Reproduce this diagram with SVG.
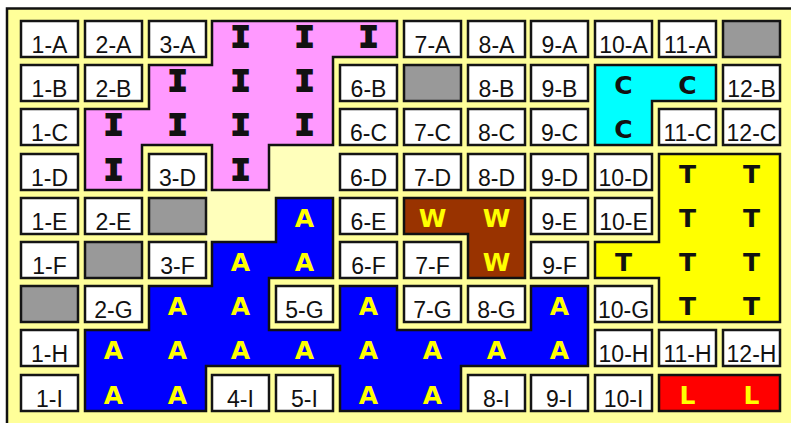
<svg xmlns="http://www.w3.org/2000/svg" width="791" height="423" viewBox="0 0 791 423">
<style>
.cell{fill:#ffffff;stroke:#151515;stroke-width:2.5}
.gray{fill:#999999;stroke:#151515;stroke-width:2.5}
.reg{stroke:#111111;stroke-width:2.5;stroke-linejoin:miter}
.lbl{font-family:"Liberation Sans",Arial,sans-serif;font-size:23px;text-anchor:middle;fill:#111111}
.big{font-family:"DejaVu Sans",sans-serif;font-weight:bold;font-size:25px;text-anchor:middle}
.ser{font-family:"Liberation Mono","Courier New",monospace;font-weight:bold;font-size:32px;text-anchor:middle;fill:#111111;stroke:#111111;stroke-width:2}
.blk{fill:#111111}
.yel{fill:#ffff00}
</style>
<rect x="0" y="0" width="791" height="423" fill="#ffffff"/>
<rect x="7" y="9" width="784" height="414" fill="#ffff99"/>
<path d="M7,423 V8.5 H791" fill="none" stroke="#111" stroke-width="2.5"/>
<path d="M269,145 H340 V198 H276 V242 H206 V190 H269 Z" fill="#ffffbb"/>

<g id="region-I">
<path class="reg" fill="#ff99ff" d="M212,21 H397 V57 H333 V145 H269 V190 H212 V145 H142 V190 H85 V109 H149 V65 H212 Z"/>
<g class="ser">
<text x="240.5" y="47">I</text>
<text x="304.5" y="47">I</text>
<text x="368.5" y="47">I</text>
<text x="177.5" y="91">I</text>
<text x="240.5" y="91">I</text>
<text x="304.5" y="91">I</text>
<text x="113.5" y="135">I</text>
<text x="177.5" y="135">I</text>
<text x="240.5" y="135">I</text>
<text x="304.5" y="135">I</text>
<text x="113.5" y="180">I</text>
<text x="240.5" y="180">I</text>
</g>
</g>

<g id="region-C">
<path class="reg" fill="#00ffff" d="M595,65 H716 V101 H652 V145 H595 Z"/>
<g class="big blk">
<text x="623.5" y="94">C</text>
<text x="687.5" y="94">C</text>
<text x="623.5" y="138">C</text>
</g>
</g>

<g id="region-T">
<path class="reg" fill="#ffff00" d="M659,154 H780 V322 H659 V278 H595 V242 H659 Z"/>
<g class="big blk">
<text x="687.5" y="183">T</text>
<text x="751.5" y="183">T</text>
<text x="687.5" y="227">T</text>
<text x="751.5" y="227">T</text>
<text x="623.5" y="271">T</text>
<text x="687.5" y="271">T</text>
<text x="751.5" y="271">T</text>
<text x="687.5" y="315">T</text>
<text x="751.5" y="315">T</text>
</g>
</g>

<g id="region-W">
<path class="reg" fill="#993300" d="M404,198 H525 V278 H468 V234 H404 Z"/>
<g class="big yel">
<text x="432.5" y="227">W</text>
<text x="496.5" y="227">W</text>
<text x="496.5" y="271">W</text>
</g>
</g>

<g id="region-L">
<path class="reg" fill="#ff0000" d="M659,375 H780 V411 H659 Z"/>
<g class="big yel">
<text x="687.5" y="404">L</text>
<text x="751.5" y="404">L</text>
</g>
</g>

<g id="region-A">
<path class="reg" fill="#0000ff" d="M276,198 H333 V278 H269 V330 H340 V286 H397 V330 H531 V286 H588 V366 H461 V411 H340 V366 H206 V411 H85 V330 H149 V286 H212 V242 H276 Z"/>
<g class="big yel">
<text x="304.5" y="227">A</text>
<text x="240.5" y="271">A</text>
<text x="304.5" y="271">A</text>
<text x="177.5" y="315">A</text>
<text x="240.5" y="315">A</text>
<text x="368.5" y="315">A</text>
<text x="559.5" y="315">A</text>
<text x="113.5" y="359">A</text>
<text x="177.5" y="359">A</text>
<text x="240.5" y="359">A</text>
<text x="304.5" y="359">A</text>
<text x="368.5" y="359">A</text>
<text x="432.5" y="359">A</text>
<text x="496.5" y="359">A</text>
<text x="559.5" y="359">A</text>
<text x="113.5" y="404">A</text>
<text x="177.5" y="404">A</text>
<text x="368.5" y="404">A</text>
<text x="432.5" y="404">A</text>
</g>
</g>

<g id="cell-1-A"><rect class="cell" x="21" y="21" width="57" height="36"/><text class="lbl" x="49.5" y="53">1-A</text></g>
<g id="cell-2-A"><rect class="cell" x="85" y="21" width="57" height="36"/><text class="lbl" x="113.5" y="53">2-A</text></g>
<g id="cell-3-A"><rect class="cell" x="149" y="21" width="57" height="36"/><text class="lbl" x="177.5" y="53">3-A</text></g>
<g id="cell-7-A"><rect class="cell" x="404" y="21" width="57" height="36"/><text class="lbl" x="432.5" y="53">7-A</text></g>
<g id="cell-8-A"><rect class="cell" x="468" y="21" width="57" height="36"/><text class="lbl" x="496.5" y="53">8-A</text></g>
<g id="cell-9-A"><rect class="cell" x="531" y="21" width="57" height="36"/><text class="lbl" x="559.5" y="53">9-A</text></g>
<g id="cell-10-A"><rect class="cell" x="595" y="21" width="57" height="36"/><text class="lbl" x="623.5" y="53">10-A</text></g>
<g id="cell-11-A"><rect class="cell" x="659" y="21" width="57" height="36"/><text class="lbl" x="687.5" y="53">11-A</text></g>
<g id="cell-12-A"><rect class="gray" x="723" y="21" width="57" height="36"/></g>

<g id="cell-1-B"><rect class="cell" x="21" y="65" width="57" height="36"/><text class="lbl" x="49.5" y="97">1-B</text></g>
<g id="cell-2-B"><rect class="cell" x="85" y="65" width="57" height="36"/><text class="lbl" x="113.5" y="97">2-B</text></g>
<g id="cell-6-B"><rect class="cell" x="340" y="65" width="57" height="36"/><text class="lbl" x="368.5" y="97">6-B</text></g>
<g id="cell-7-B"><rect class="gray" x="404" y="65" width="57" height="36"/></g>
<g id="cell-8-B"><rect class="cell" x="468" y="65" width="57" height="36"/><text class="lbl" x="496.5" y="97">8-B</text></g>
<g id="cell-9-B"><rect class="cell" x="531" y="65" width="57" height="36"/><text class="lbl" x="559.5" y="97">9-B</text></g>
<g id="cell-12-B"><rect class="cell" x="723" y="65" width="57" height="36"/><text class="lbl" x="751.5" y="97">12-B</text></g>

<g id="cell-1-C"><rect class="cell" x="21" y="109" width="57" height="36"/><text class="lbl" x="49.5" y="141">1-C</text></g>
<g id="cell-6-C"><rect class="cell" x="340" y="109" width="57" height="36"/><text class="lbl" x="368.5" y="141">6-C</text></g>
<g id="cell-7-C"><rect class="cell" x="404" y="109" width="57" height="36"/><text class="lbl" x="432.5" y="141">7-C</text></g>
<g id="cell-8-C"><rect class="cell" x="468" y="109" width="57" height="36"/><text class="lbl" x="496.5" y="141">8-C</text></g>
<g id="cell-9-C"><rect class="cell" x="531" y="109" width="57" height="36"/><text class="lbl" x="559.5" y="141">9-C</text></g>
<g id="cell-11-C"><rect class="cell" x="659" y="109" width="57" height="36"/><text class="lbl" x="687.5" y="141">11-C</text></g>
<g id="cell-12-C"><rect class="cell" x="723" y="109" width="57" height="36"/><text class="lbl" x="751.5" y="141">12-C</text></g>

<g id="cell-1-D"><rect class="cell" x="21" y="154" width="57" height="36"/><text class="lbl" x="49.5" y="186">1-D</text></g>
<g id="cell-3-D"><rect class="cell" x="149" y="154" width="57" height="36"/><text class="lbl" x="177.5" y="186">3-D</text></g>
<g id="cell-6-D"><rect class="cell" x="340" y="154" width="57" height="36"/><text class="lbl" x="368.5" y="186">6-D</text></g>
<g id="cell-7-D"><rect class="cell" x="404" y="154" width="57" height="36"/><text class="lbl" x="432.5" y="186">7-D</text></g>
<g id="cell-8-D"><rect class="cell" x="468" y="154" width="57" height="36"/><text class="lbl" x="496.5" y="186">8-D</text></g>
<g id="cell-9-D"><rect class="cell" x="531" y="154" width="57" height="36"/><text class="lbl" x="559.5" y="186">9-D</text></g>
<g id="cell-10-D"><rect class="cell" x="595" y="154" width="57" height="36"/><text class="lbl" x="623.5" y="186">10-D</text></g>

<g id="cell-1-E"><rect class="cell" x="21" y="198" width="57" height="36"/><text class="lbl" x="49.5" y="230">1-E</text></g>
<g id="cell-2-E"><rect class="cell" x="85" y="198" width="57" height="36"/><text class="lbl" x="113.5" y="230">2-E</text></g>
<g id="cell-3-E"><rect class="gray" x="149" y="198" width="57" height="36"/></g>
<g id="cell-6-E"><rect class="cell" x="340" y="198" width="57" height="36"/><text class="lbl" x="368.5" y="230">6-E</text></g>
<g id="cell-9-E"><rect class="cell" x="531" y="198" width="57" height="36"/><text class="lbl" x="559.5" y="230">9-E</text></g>
<g id="cell-10-E"><rect class="cell" x="595" y="198" width="57" height="36"/><text class="lbl" x="623.5" y="230">10-E</text></g>

<g id="cell-1-F"><rect class="cell" x="21" y="242" width="57" height="36"/><text class="lbl" x="49.5" y="274">1-F</text></g>
<g id="cell-2-F"><rect class="gray" x="85" y="242" width="57" height="36"/></g>
<g id="cell-3-F"><rect class="cell" x="149" y="242" width="57" height="36"/><text class="lbl" x="177.5" y="274">3-F</text></g>
<g id="cell-6-F"><rect class="cell" x="340" y="242" width="57" height="36"/><text class="lbl" x="368.5" y="274">6-F</text></g>
<g id="cell-7-F"><rect class="cell" x="404" y="242" width="57" height="36"/><text class="lbl" x="432.5" y="274">7-F</text></g>
<g id="cell-9-F"><rect class="cell" x="531" y="242" width="57" height="36"/><text class="lbl" x="559.5" y="274">9-F</text></g>

<g id="cell-1-G"><rect class="gray" x="21" y="286" width="57" height="36"/></g>
<g id="cell-2-G"><rect class="cell" x="85" y="286" width="57" height="36"/><text class="lbl" x="113.5" y="318">2-G</text></g>
<g id="cell-5-G"><rect class="cell" x="276" y="286" width="57" height="36"/><text class="lbl" x="304.5" y="318">5-G</text></g>
<g id="cell-7-G"><rect class="cell" x="404" y="286" width="57" height="36"/><text class="lbl" x="432.5" y="318">7-G</text></g>
<g id="cell-8-G"><rect class="cell" x="468" y="286" width="57" height="36"/><text class="lbl" x="496.5" y="318">8-G</text></g>
<g id="cell-10-G"><rect class="cell" x="595" y="286" width="57" height="36"/><text class="lbl" x="623.5" y="318">10-G</text></g>

<g id="cell-1-H"><rect class="cell" x="21" y="330" width="57" height="36"/><text class="lbl" x="49.5" y="362">1-H</text></g>
<g id="cell-10-H"><rect class="cell" x="595" y="330" width="57" height="36"/><text class="lbl" x="623.5" y="362">10-H</text></g>
<g id="cell-11-H"><rect class="cell" x="659" y="330" width="57" height="36"/><text class="lbl" x="687.5" y="362">11-H</text></g>
<g id="cell-12-H"><rect class="cell" x="723" y="330" width="57" height="36"/><text class="lbl" x="751.5" y="362">12-H</text></g>

<g id="cell-1-I"><rect class="cell" x="21" y="375" width="57" height="36"/><text class="lbl" x="49.5" y="407">1-I</text></g>
<g id="cell-4-I"><rect class="cell" x="212" y="375" width="57" height="36"/><text class="lbl" x="240.5" y="407">4-I</text></g>
<g id="cell-5-I"><rect class="cell" x="276" y="375" width="57" height="36"/><text class="lbl" x="304.5" y="407">5-I</text></g>
<g id="cell-8-I"><rect class="cell" x="468" y="375" width="57" height="36"/><text class="lbl" x="496.5" y="407">8-I</text></g>
<g id="cell-9-I"><rect class="cell" x="531" y="375" width="57" height="36"/><text class="lbl" x="559.5" y="407">9-I</text></g>
<g id="cell-10-I"><rect class="cell" x="595" y="375" width="57" height="36"/><text class="lbl" x="623.5" y="407">10-I</text></g>
</svg>
